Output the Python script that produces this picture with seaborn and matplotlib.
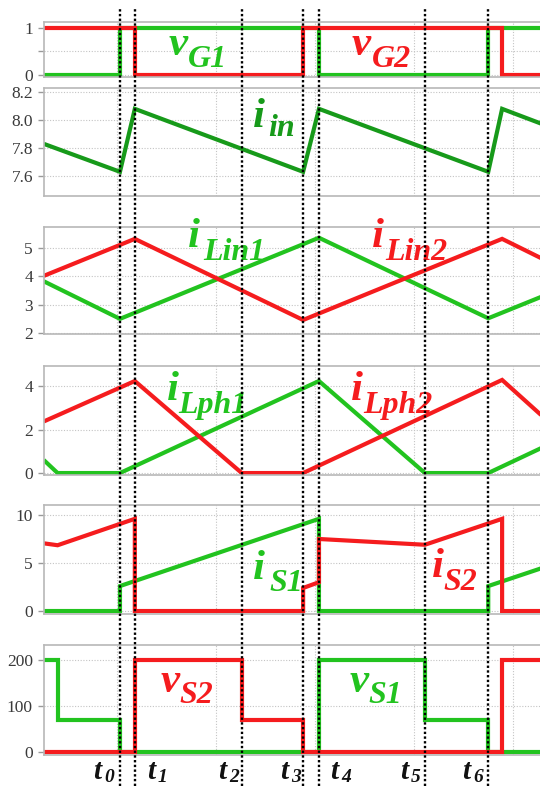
import matplotlib
matplotlib.use("Agg")
import matplotlib.pyplot as plt
import matplotlib.transforms as mtransforms
from matplotlib.lines import Line2D
import pandas as pd
import seaborn as sns

# ---------------------------------------------------------------
# Interleaved converter key waveforms (time in microseconds)
# ---------------------------------------------------------------
t_marks = [0.03, 0.18, 1.26, 1.88, 2.04, 3.11, 3.75]
t_names = ["0", "1", "2", "3", "4", "5", "6"]

# gate signals
vg1_t = [-0.74, 0.03, 0.03, 2.04, 2.04, 3.75, 3.75, 4.30]
vg1_v = [0, 0, 1, 1, 0, 0, 1, 1]
vg2_t = [-0.74, 0.18, 0.18, 1.88, 1.88, 3.89, 3.89, 4.30]
vg2_v = [1, 1, 0, 0, 1, 1, 0, 0]

# input current
iin_t = [-0.74, 0.03, 0.18, 1.88, 2.04, 3.75, 3.89, 4.30]
iin_v = [7.83, 7.63, 8.08, 7.63, 8.08, 7.63, 8.08, 7.97]

# input inductor currents
ilin1_t = [-0.74, 0.03, 2.04, 3.75, 4.30]
ilin1_v = [3.83, 2.50, 5.37, 2.52, 3.30]
ilin2_t = [-0.74, 0.18, 1.88, 3.89, 4.30]
ilin2_v = [4.02, 5.33, 2.46, 5.33, 4.62]

# phase inductor currents
ilph1_t = [-0.74, -0.60, 0.03, 2.04, 3.11, 3.75, 4.30]
ilph1_v = [0.60, 0.0, 0.0, 4.23, 0.0, 0.0, 1.18]
ilph2_t = [-0.74, 0.18, 1.26, 1.88, 3.89, 4.30]
ilph2_v = [2.37, 4.23, 0.0, 0.0, 4.28, 2.60]

# switch currents
is1_t = [-0.74, 0.03, 0.03, 2.04, 2.04, 3.75, 3.75, 4.30]
is1_v = [0, 0, 2.6, 9.6, 0, 0, 2.6, 4.5]
is2_t = [-0.74, -0.60, 0.18, 0.18, 1.88, 1.88, 2.04, 2.04, 3.11, 3.89, 3.89, 4.30]
is2_v = [7.05, 6.85, 9.6, 0, 0, 2.4, 3.0, 7.5, 6.9, 9.6, 0, 0]

# switch voltages
vs1_t = [-0.74, -0.60, -0.60, 0.03, 0.03, 2.04, 2.04, 3.11, 3.11, 3.75, 3.75, 4.30]
vs1_v = [200, 200, 70, 70, 0, 0, 200, 200, 70, 70, 0, 0]
vs2_t = [-0.74, 0.18, 0.18, 1.26, 1.26, 1.88, 1.88, 3.89, 3.89, 4.30]
vs2_v = [0, 0, 200, 200, 70, 70, 0, 0, 200, 200]

RED = "#f51c1e"
GREEN = "#22c31f"
DKGREEN = "#179a1a"

W, H = 540, 786
sns.set_theme(style="whitegrid")
plt.rcParams["font.family"] = ["Liberation Serif", "DejaVu Serif"]

fig = plt.figure(figsize=(W / 100, H / 100), dpi=100)
fig.patch.set_facecolor("white")


def fx(px):
    return px / W


def fy(py):
    return 1 - py / H


# (top px, bottom px, ylim, yticks, yticklabels, series)
panels = [
    (22, 77, (-0.043, 1.128), [0, 0.5, 1], ["0", "", "1"],
     [(vg1_t, vg1_v, GREEN), (vg2_t, vg2_v, RED)]),
    (88, 196, (7.457, 8.229), [7.6, 7.8, 8.0, 8.2], ["7.6", "7.8", "8.0", "8.2"],
     [(iin_t, iin_v, DKGREEN)]),
    (227, 334, (1.964, 5.75), [2, 3, 4, 5], ["2", "3", "4", "5"],
     [(ilin1_t, ilin1_v, GREEN), (ilin2_t, ilin2_v, RED)]),
    (366, 475, (-0.09, 4.92), [0, 2, 4], ["0", "2", "4"],
     [(ilph1_t, ilph1_v, GREEN), (ilph2_t, ilph2_v, RED)]),
    (505, 614, (-0.31, 11.04), [0, 5, 10], ["0", "5", "10"],
     [(is1_t, is1_v, GREEN), (is2_t, is2_v, RED)]),
    (645, 755, (-6.5, 232.6), [0, 100, 200], ["0", "100", "200"],
     [(vs1_t, vs1_v, GREEN), (vs2_t, vs2_v, RED)]),
]

LEFT_PX, RIGHT_PX = 44, 560
xlim = ((LEFT_PX - 117) / 99, (RIGHT_PX - 117) / 99)

axes = []
for top, bot, ylim, yt, ytl, series in panels:
    ax = fig.add_axes([fx(LEFT_PX), fy(bot), (RIGHT_PX - LEFT_PX) / W, (bot - top) / H])
    ax.set_facecolor("white")
    for t, v, c in series:
        df = pd.DataFrame({"t": t, "v": v})
        sns.lineplot(data=df, x="t", y="v", ax=ax, sort=False, estimator=None,
                     color=c, lw=3.0, legend=False,
                     solid_joinstyle="miter", solid_capstyle="butt")
    ax.set_xlim(*xlim)
    ax.set_ylim(*ylim)
    ax.set_xticks([0, 1, 2, 3, 4])
    ax.set_xticklabels([])
    ax.set_yticks(yt)
    ax.set_yticklabels(ytl)
    ax.set_xlabel("")
    ax.set_ylabel("")
    ax.grid(True, color="#c4c4c4", linestyle=(0, (1, 1.5)), linewidth=0.8)
    ax.tick_params(axis="x", length=0)
    ax.tick_params(axis="y", length=4, width=1.0, color="#9a9a9a", pad=4,
                   labelsize=12.5, labelcolor="#3a3a3a", left=True, direction="out")
    for side in ("left", "top", "bottom"):
        ax.spines[side].set_color("#b8b8b8")
        ax.spines[side].set_linewidth(1.2)
    ax.spines["right"].set_visible(False)
    axes.append(ax)

# dotted markers at the switching instants, running through all panels
trans = mtransforms.blended_transform_factory(axes[0].transData, fig.transFigure)
for t in t_marks:
    fig.add_artist(Line2D([t, t], [0, 0.991], transform=trans, color="black",
                          lw=1.7, linestyle=(0, (1, 1)), dash_capstyle="butt", zorder=10))

LBL = dict(fontfamily="Liberation Serif", fontstyle="italic", fontweight="bold",
           va="baseline", ha="left")


def sublabel(main, sub, x, y, xs, ys, color, size=31, subsize=23):
    fig.text(fx(x), fy(y), main, color=color, fontsize=size, **LBL)
    fig.text(fx(xs), fy(ys), sub, color=color, fontsize=subsize, **LBL)


sublabel("v", "G1", 169, 55, 188, 67, GREEN)
sublabel("v", "G2", 352, 55, 372, 67, RED)
sublabel("i", "in", 253, 127, 268, 136, DKGREEN)
sublabel("i", "Lin1", 188, 247, 203, 260, GREEN)
sublabel("i", "Lin2", 372, 247, 385, 260, RED)
sublabel("i", "Lph1", 167, 400, 178, 413, GREEN)
sublabel("i", "Lph2", 351, 400, 363, 413, RED)
sublabel("i", "S1", 253, 579, 269, 591, GREEN)
sublabel("i", "S2", 432, 577, 443, 590, RED)
sublabel("v", "S2", 161, 692, 179, 703, RED)
sublabel("v", "S1", 350, 692, 368, 703, GREEN)

# time instant names beside each dotted marker
t_dx = [-27, 12, -24, -23, 11, -25, -26]
for t, name, dx in zip(t_marks, t_names, t_dx):
    tr_main = mtransforms.offset_copy(trans, fig=fig, x=dx, y=0, units="dots")
    tr_sub = mtransforms.offset_copy(trans, fig=fig, x=dx + 11, y=-3, units="dots")
    fig.text(t, fy(779), "t", transform=tr_main, color="#111111", fontsize=21, **LBL)
    fig.text(t, fy(779), name, transform=tr_sub, color="#111111", fontsize=14, **LBL)

fig.savefig("out.png", dpi=100, facecolor="white")
